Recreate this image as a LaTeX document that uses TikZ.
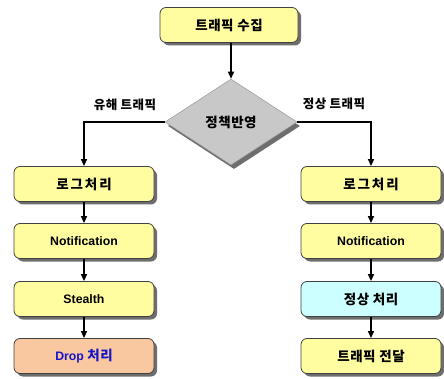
\documentclass[tikz,border=0pt]{standalone}
\usepackage{fontspec}
\setmainfont{Liberation Sans}
\newfontfamily\kr{Noto Sans CJK KR}[LetterSpace=4]
\newfontfamily\krwide{Noto Sans CJK KR}[LetterSpace=14]
\usetikzlibrary{shapes.geometric,arrows.meta,shadows}
\definecolor{boxyellow}{RGB}{255,253,160}
\definecolor{boxcyan}{RGB}{204,255,255}
\definecolor{boxorange}{RGB}{250,200,160}
\definecolor{dropblue}{RGB}{20,20,200}
\definecolor{diagray}{RGB}{200,200,200}
\definecolor{shadowgray}{RGB}{110,110,110}
\newcommand{\krbig}{\kr\fontsize{13.5}{15}\selectfont}
\newcommand{\krspread}{\krwide\fontsize{13.5}{15}\selectfont}
\tikzset{
  x=1pt, y=1pt,
  stepbox/.style={draw=black!75, line width=0.8pt, rounded corners=6pt,
    minimum width=140pt, minimum height=35pt, fill=boxyellow,
    font=\bfseries\fontsize{12.3}{14}\selectfont,
    drop shadow={shadow xshift=3pt, shadow yshift=-3pt, fill=shadowgray, opacity=1}},
  decision/.style={diamond, aspect=1.53, draw=black!40, line width=0.5pt, fill=diagray,
    minimum width=132pt, minimum height=86pt, inner sep=0pt,
    font=\kr\bfseries\fontsize{13.5}{15}\selectfont,
    drop shadow={shadow xshift=3pt, shadow yshift=-4pt, fill=shadowgray, opacity=1}},
  conn/.style={line width=1.3pt, -{Triangle[length=7pt,width=6pt]}},
  lbl/.style={font=\kr\bfseries\fontsize{12.5}{14}\selectfont}
}
\begin{document}
\begin{tikzpicture}
\useasboundingbox (0,0) rectangle (444,-379);
\node[stepbox, minimum width=138pt] (top) at (229,-25) {\krbig 트래픽 수집};
\node[decision] (dec) at (231,-122) {정책반영};
% left column
\node[stepbox] (l1) at (84,-184) {\krspread 로그처리};
\node[stepbox] (l2) at (84,-241) {Notification};
\node[stepbox] (l3) at (84,-299) {Stealth};
\node[stepbox, fill=boxorange] (l4) at (84,-356) {\color{dropblue}Drop {\krbig 처리}};
% right column
\node[stepbox] (r1) at (371,-184) {\krspread 로그처리};
\node[stepbox] (r2) at (371,-241) {Notification};
\node[stepbox, fill=boxcyan] (r3) at (371,-299) {\krbig 정상 처리};
\node[stepbox] (r4) at (371,-356) {\krbig 트래픽 전달};
% labels
\node[lbl] (lab1) at (125,-105) {유해 트래픽};
\node[lbl] (lab2) at (334,-104) {정상 트래픽};
% connectors
\draw[conn] (top.south -| dec.north) -- (dec.north);
\draw[conn] (dec.west) -| (l1.north);
\draw[conn] (dec.east) -| (r1.north);
\draw[conn] (l1) -- (l2);
\draw[conn] (l2) -- (l3);
\draw[conn] (l3) -- (l4);
\draw[conn] (r1) -- (r2);
\draw[conn] (r2) -- (r3);
\draw[conn] (r3) -- (r4);
\end{tikzpicture}
\end{document}
